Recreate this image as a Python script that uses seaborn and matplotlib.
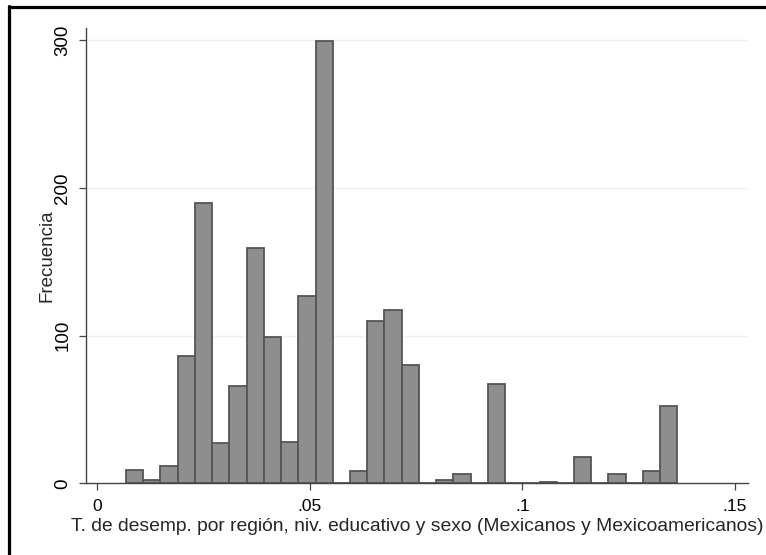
import numpy as np
import pandas as pd
import matplotlib
matplotlib.use("Agg")
import matplotlib.pyplot as plt
from matplotlib.lines import Line2D
import seaborn as sns

# Histogram of the unemployment rate by region, education level and sex
bin_start = 0.00675
bin_width = 0.004053
counts = [9, 2, 12, 86, 190, 27, 66, 159, 99, 28, 127, 299,
          0, 8, 110, 117, 80, 0, 2, 6, 0, 67, 0, 0,
          1, 0, 18, 0, 6, 0, 8, 52]
x_ticks = [0, 0.05, 0.10, 0.15]
x_tick_labels = ["0", ".05", ".1", ".15"]
y_ticks = [0, 100, 200, 300]
y_tick_labels = ["0", "100", "200", "300"]

edges = [bin_start + bin_width * i for i in range(len(counts) + 1)]
centers = [(a + b) / 2 for a, b in zip(edges[:-1], edges[1:])]
df = pd.DataFrame({"tasa": centers, "freq": counts})

sns.set_style("white")
plt.rcParams["font.family"] = ["Liberation Sans", "DejaVu Sans"]

fig = plt.figure(figsize=(7.66, 5.55), dpi=100)
ax = fig.add_axes([0.1123, 0.1292, 0.8642, 0.8208])

sns.histplot(data=df, x="tasa", weights="freq", bins=edges, ax=ax,
             color="#8e8e8e", edgecolor="#555555", linewidth=1.3, alpha=1.0)

ax.set_xlim(-0.00266, 0.15307)
ax.set_ylim(0, 308.3)

ax.set_yticks(y_ticks)
ax.set_yticklabels(y_tick_labels, rotation=90, va="center", fontsize=13.5)
ax.set_xticks(x_ticks)
ax.set_xticklabels(x_tick_labels, fontsize=12.5)

for v in y_ticks[1:]:
    ax.axhline(v, color="#eaf2f3", linewidth=1.0, zorder=0)

for side in ("top", "right"):
    ax.spines[side].set_visible(False)
for side in ("left", "bottom"):
    ax.spines[side].set_color("#444444")
    ax.spines[side].set_linewidth(1.0)

ax.tick_params(axis="both", direction="out", length=5, width=0.9,
               color="#444444", labelcolor="black",
               left=True, bottom=True)
ax.tick_params(axis="x", pad=6.3)
ax.tick_params(axis="y", pad=5.5)

ax.set_xlabel("T. de desemp. por región, niv. educativo y sexo (Mexicanos y Mexicoamericanos)",
              fontsize=13.9)
ax.xaxis.set_label_coords(0.5, -0.0765)
ax.set_ylabel("Frecuencia", fontsize=13.5)
ax.yaxis.set_label_coords(-0.046, 0.5)

# black frame on the top and left edges of the figure
fig.add_artist(Line2D([8.5 / 766, 1.0], [1 - 7 / 555, 1 - 7 / 555],
                      transform=fig.transFigure, color="black", linewidth=2.3))
fig.add_artist(Line2D([9 / 766, 9 / 766], [0.0, 1 - 5.9 / 555],
                      transform=fig.transFigure, color="black", linewidth=2.3))

fig.savefig("out.png", dpi=100, facecolor="white")
